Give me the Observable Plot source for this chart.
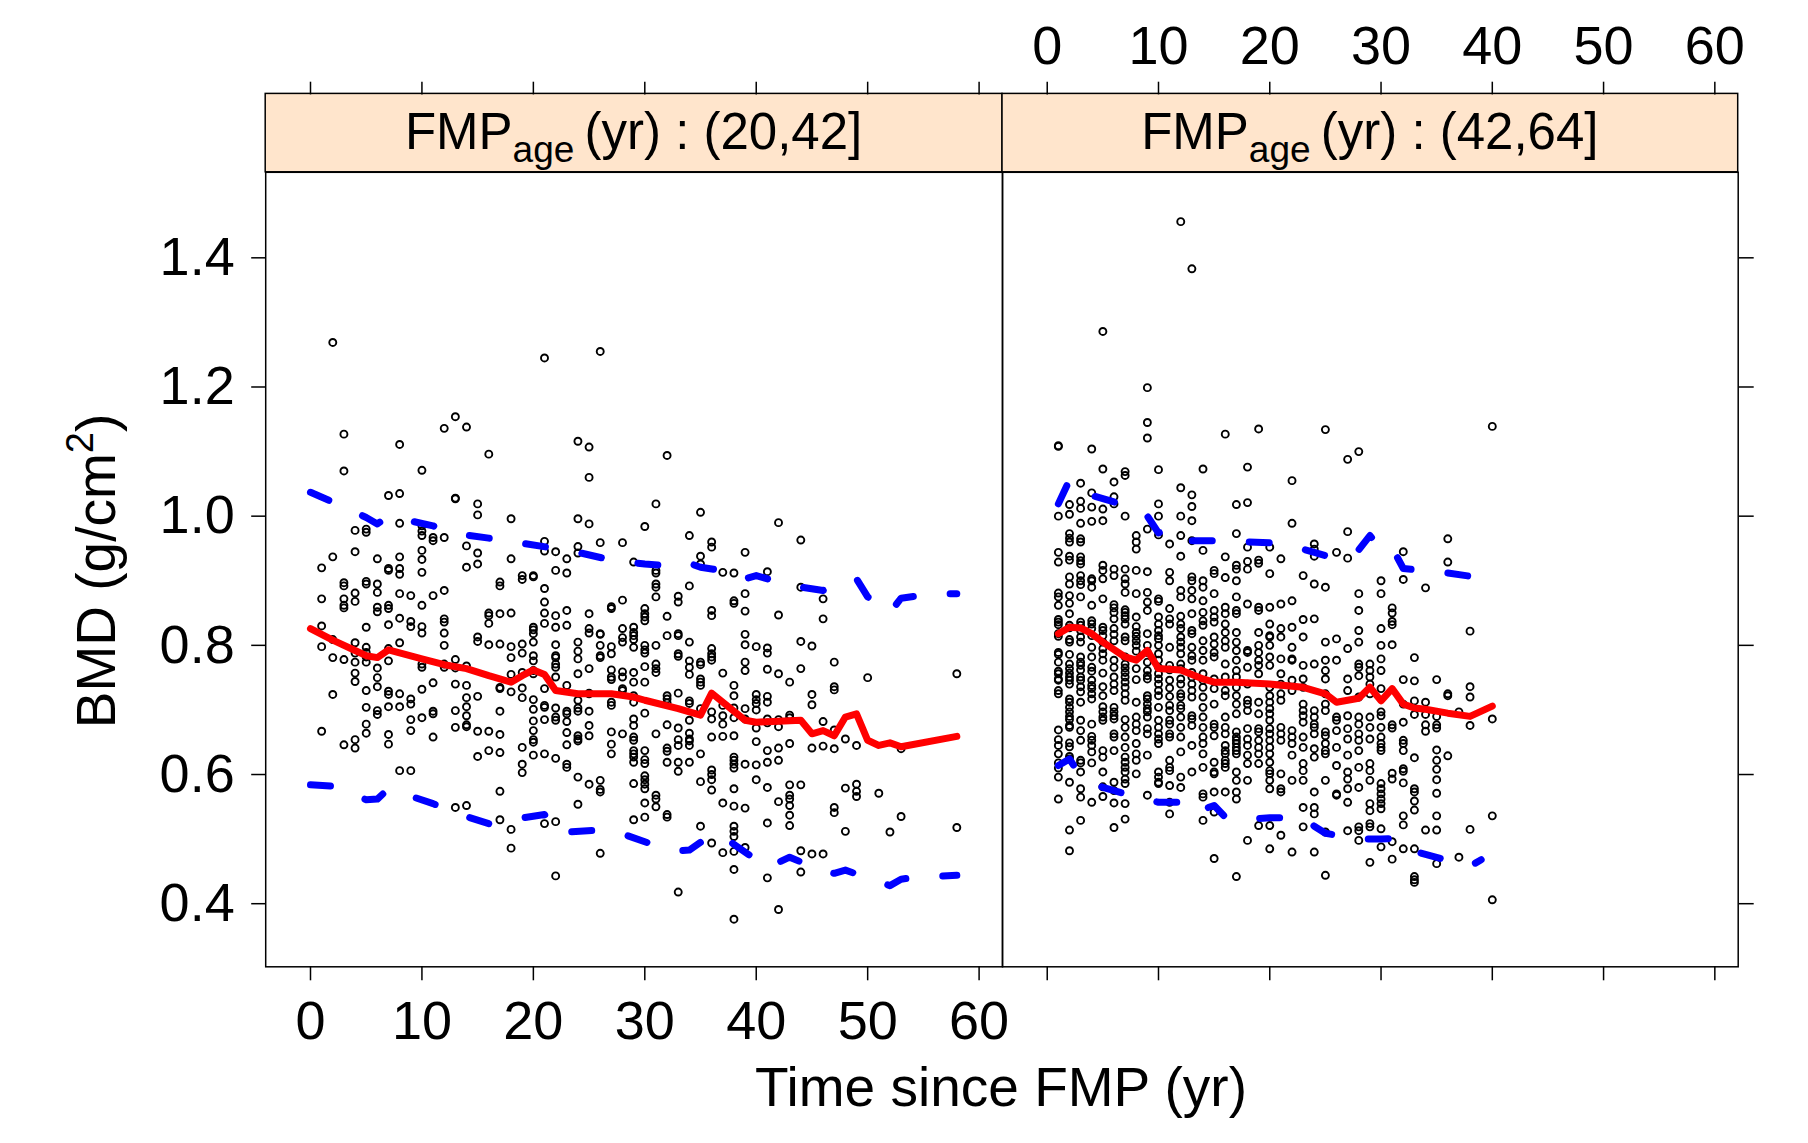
<!DOCTYPE html>
<html><head><meta charset="utf-8">
<script src="https://cdn.jsdelivr.net/npm/d3@7"></script>
<script src="https://cdn.jsdelivr.net/npm/@observablehq/plot@0.6"></script>
<style>
body{margin:0;background:#fff;}
#wrap{position:relative;width:1808px;height:1143px;background:#fff;overflow:hidden;}
#wrap svg{position:absolute;top:0;}
</style></head>
<body><div id="wrap"></div>
<script>
// ---------- axis settings ----------
const xDomain = [-4.02, 62.1];
const yDomain = [0.3023, 1.5324];
const xTicks = [0, 10, 20, 30, 40, 50, 60];
const yTicks = [0.4, 0.6, 0.8, 1.0, 1.2, 1.4];
const stripLevels = ["(20,42]", "(42,64]"];
const xTitle = "Time since FMP (yr)";

// ---------- FMP age (20,42]: [year, BMD values...] ----------
const youngCols = [
 [1, .920,.872,.830,.798,.667],
 [2, 1.269,.937,.809,.781,.724],
 [3, 1.127,1.070,.897,.892,.872,.862,.858,.778,.646],
 [4, .978,.945,.881,.868,.804,.788,.774,.757,.744,.654,.641],
 [5, .980,.975,.899,.895,.828,.797,.789,.782,.774,.730,.704,.678,.664],
 [6, .934,.895,.882,.859,.852,.765,.750,.736,.699,.693],
 [7, 1.032,.919,.916,.862,.857,.832,.795,.776,.729,.724,.705,.662,.647],
 [8, 1.111,1.035,.989,.937,.919,.910,.880,.842,.804,.725,.705,.606],
 [9, .877,.837,.829,.717,.709,.685,.668,.606],
 [10, 1.071,.985,.977,.970,.947,.933,.913,.862,.829,.819,.771,.766,.732,.688],
 [11, .967,.962,.877,.742,.698,.694,.658],
 [12, 1.136,.967,.885,.841,.836,.819,.800,.771,.766],
 [13, 1.154,1.028,1.027,.778,.765,.740,.699,.673,.549],
 [14, 1.138,.954,.921,.768,.738,.719,.705,.691,.677,.674,.552],
 [15, 1.019,1.002,.943,.926,.813,.806,.721,.667,.628],
 [16, 1.096,.850,.846,.834,.801,.667,.637],
 [17, .898,.892,.849,.802,.735,.733,.698,.662,.634,.574,.530],
 [18, .996,.934,.850,.798,.781,.755,.728,.515,.486],
 [19, .908,.902,.802,.788,.758,.734,.719,.642,.616,.603],
 [20, .908,.906,.828,.824,.818,.805,.784,.776,.761,.756,.716,.701,.683,.668,.654,.650,.630],
 [21, 1.245,.961,.946,.888,.867,.850,.834,.733,.707,.704,.685,.632,.524],
 [22, .945,.916,.846,.828,.801,.784,.781,.771,.766,.751,.703,.689,.684,.625,.527,.443],
 [23, .934,.912,.854,.831,.738,.698,.694,.682,.665,.646,.616,.611],
 [24, 1.116,.996,.953,.943,.805,.791,.779,.756,.715,.703,.698,.660,.655,.652,.596,.554],
 [25, 1.107,1.060,.988,.849,.826,.819,.764,.726,.725,.698,.676,.660,.585],
 [26, 1.255,.959,.818,.817,.800,.784,.781,.591,.577,.573,.478],
 [27, .860,.857,.798,.787,.762,.751,.747,.712,.707,.666,.647,.632],
 [28, .959,.870,.826,.812,.805,.759,.751,.733,.730,.663],
 [29, .929,.828,.820,.815,.809,.797,.758,.743,.722,.712,.686,.676,.658,.653,.637,.632,.627,.619,.586,.530],
 [30, .984,.857,.849,.844,.838,.800,.793,.788,.767,.743,.695,.637,.623,.617,.598,.592,.585,.578,.556,.534],
 [31, 1.019,.916,.912,.895,.890,.875,.800,.771,.764,.758,.663,.568,.562,.550],
 [32, 1.094,.845,.815,.722,.717,.711,.677,.641,.636,.619,.538,.534],
 [33, .876,.867,.818,.815,.787,.783,.726,.672,.654,.645,.619,.605,.418],
 [34, .970,.892,.805,.776,.766,.755,.714,.710,.684,.664,.655,.652,.645,.619],
 [35, 1.006,.938,.926,.774,.770,.748,.743,.738,.702,.632,.589,.520],
 [36, .960,.952,.854,.846,.795,.787,.782,.777,.697,.686,.658,.607,.600,.592,.576,.494],
 [37, .913,.757,.707,.691,.678,.659,.556,.479],
 [38, .912,.869,.865,.738,.722,.703,.688,.660,.627,.622,.616,.610,.578,.551,.520,.512,.504,.481,.453,.376],
 [39, .944,.880,.853,.817,.801,.774,.761,.702,.686,.616,.548,.487],
 [40, .798,.724,.716,.710,.700,.672,.651,.615,.592],
 [41, .914,.796,.788,.763,.721,.712,.686,.680,.637,.619,.580,.525,.440],
 [42, .990,.847,.756,.685,.674,.641,.622,.558,.391],
 [43, .743,.692,.688,.648,.584,.568,.562,.552,.537,.521],
 [44, .963,.890,.806,.764,.584,.482,.449],
 [45, .799,.724,.708,.641,.477],
 [46, .872,.841,.682,.644,.477],
 [47, .774,.736,.731,.669,.640,.549,.541],
 [48, .655,.579,.512],
 [49, .645,.585,.574,.566],
 [50, .750],
 [51, .571],
 [52, .511],
 [53, .640,.535],
 [58, .756,.518]
];
const youngMedian = [[0,.826],[2,.808],[4,.792],[5,.784],[6,.781],[7,.793],[10,.779],[12,.770],[14,.764],[16,.753],[18,.743],[19,.753],[20,.762],[21,.755],[22,.730],[24,.725],[27,.725],[29,.720],[30,.715],[33,.702],[35,.692],[36,.726],[38,.698],[39,.684],[40,.681],[44,.684],[45,.663],[46,.668],[47,.660],[48,.689],[49,.694],[50,.653],[51,.645],[52,.649],[53,.643],[58,.659]];
const youngUpper = [[0,1.037],[2,1.022],[5,.998],[6,.988],[7,1.000],[11,.985],[13,.973],[16,.966],[18,.963],[19,.958],[22,.950],[24,.944],[27,.932],[30,.926],[33,.922],[34,.927],[35,.921],[38,.913],[39,.903],[40,.908],[43,.893],[46,.885],[48,.898],[49,.903],[50,.875],[52,.851],[53,.873],[56,.880],[58,.880]];
const youngLower = [[0,.584],[2,.582],[5,.561],[6,.562],[7,.578],[11,.555],[13,.540],[16,.524],[17,.525],[18,.530],[21,.538],[22,.510],[26,.514],[28,.508],[31,.490],[33,.482],[34,.483],[36,.507],[37,.504],[38,.492],[41,.456],[43,.472],[46,.450],[47,.447],[48,.452],[52,.428],[53,.438],[54,.440],[58,.444]];

// ---------- FMP age (42,64]: [year, BMD values...] ----------
const oldCols = [
 [1, 1.109,1.108,1.000,.944,.929,.881,.875,.862,.840,.836,.832,.818,.814,.789,.786,.774,.760,.756,.748,.746,.730,.725,.669,.654,.645,.632,.618,.610,.596,.562],
 [2, 1.018,1.003,.973,.966,.960,.938,.932,.906,.895,.877,.865,.849,.831,.827,.809,.805,.786,.771,.764,.757,.751,.746,.740,.717,.712,.704,.697,.690,.685,.676,.673,.649,.643,.628,.624,.588,.514,.482],
 [3, 1.051,1.023,1.012,.989,.965,.960,.937,.931,.926,.908,.900,.894,.875,.836,.831,.823,.813,.805,.782,.774,.769,.762,.751,.746,.736,.728,.712,.684,.668,.653,.622,.618,.604,.578,.565,.529],
 [4, 1.104,1.036,1.014,.992,.903,.900,.890,.862,.838,.833,.826,.815,.797,.782,.766,.760,.746,.738,.733,.725,.717,.678,.659,.653,.645,.635,.618,.557],
 [5, 1.286,1.073,1.011,.993,.924,.916,.903,.872,.828,.823,.815,.805,.795,.787,.777,.757,.736,.722,.705,.697,.689,.684,.637,.627,.604,.581,.566],
 [6, 1.053,1.030,1.019,.918,.908,.863,.858,.851,.841,.826,.817,.807,.777,.766,.751,.740,.730,.704,.697,.691,.686,.663,.658,.637,.588,.575,.556,.518],
 [7, 1.069,1.063,1.000,.918,.903,.895,.882,.855,.851,.846,.841,.833,.813,.807,.782,.771,.765,.758,.751,.743,.735,.725,.715,.685,.673,.658,.642,.627,.619,.611,.604,.593,.586,.555,.531],
 [8, .970,.960,.949,.916,.880,.844,.829,.820,.814,.807,.800,.791,.764,.747,.712,.689,.678,.668,.648,.632,.622,.601],
 [9, 1.199,1.145,1.121,.980,.914,.882,.867,.854,.818,.800,.789,.774,.761,.753,.748,.722,.717,.709,.702,.697,.689,.671,.663,.630,.568],
 [10, 1.072,1.019,1.000,.971,.872,.868,.844,.833,.823,.815,.810,.800,.787,.777,.766,.756,.748,.740,.730,.722,.704,.684,.673,.663,.655,.648,.604,.596,.588,.586],
 [11, .957,.913,.900,.857,.841,.833,.797,.769,.762,.746,.734,.721,.707,.699,.684,.678,.663,.658,.622,.611,.606,.583,.557,.539],
 [12, 1.456,1.044,1.000,.970,.938,.885,.875,.845,.833,.826,.813,.805,.797,.787,.771,.764,.748,.740,.725,.720,.707,.702,.689,.673,.658,.635,.596,.580],
 [13, 1.383,1.033,1.015,.993,.962,.906,.900,.885,.872,.849,.823,.818,.797,.784,.777,.758,.751,.740,.730,.720,.691,.686,.676,.645,.604],
 [14, 1.073,.947,.900,.890,.869,.851,.838,.831,.807,.792,.777,.756,.746,.735,.720,.704,.689,.673,.658,.648,.632,.611,.570,.565,.529],
 [15, .916,.911,.880,.854,.844,.836,.813,.802,.789,.782,.748,.733,.709,.678,.673,.660,.619,.604,.601,.573,.542,.470],
 [16, 1.127,.937,.905,.859,.849,.833,.820,.807,.797,.771,.751,.730,.722,.689,.673,.663,.645,.637,.632,.622,.617,.611,.573],
 [17, 1.018,.973,.924,.918,.900,.875,.854,.849,.820,.805,.792,.777,.761,.751,.735,.722,.709,.694,.666,.658,.653,.648,.642,.637,.632,.604,.591,.573,.562,.442],
 [18, 1.076,1.021,.952,.930,.918,.864,.792,.789,.766,.740,.715,.709,.699,.671,.655,.645,.630,.617,.591,.498],
 [19, 1.135,.932,.927,.859,.854,.820,.800,.789,.777,.769,.756,.712,.694,.671,.666,.653,.642,.632,.617,.521],
 [20, .952,.911,.859,.833,.815,.813,.800,.782,.769,.735,.722,.712,.702,.694,.684,.671,.663,.653,.642,.632,.619,.606,.601,.591,.578,.521,.485],
 [21, .934,.864,.826,.813,.779,.756,.740,.725,.715,.673,.663,.653,.601,.578,.573,.506],
 [22, 1.055,.989,.869,.828,.797,.779,.777,.746,.730,.668,.658,.648,.630,.591,.480],
 [23, .908,.840,.813,.769,.748,.735,.709,.699,.691,.681,.658,.642,.617,.606,.591,.549,.519],
 [24, .957,.949,.938,.895,.841,.771,.699,.689,.678,.673,.663,.640,.627,.573,.549,.539,.480],
 [25, 1.134,.890,.805,.777,.761,.748,.725,.709,.699,.666,.660,.648,.637,.632,.591,.511,.444],
 [26, .944,.810,.777,.689,.684,.668,.642,.614,.570,.568],
 [27, 1.088,.976,.935,.795,.748,.730,.691,.671,.655,.630,.604,.593,.578,.557,.513],
 [28, 1.100,.880,.854,.823,.805,.771,.766,.753,.720,.689,.678,.663,.653,.637,.611,.580,.519,.513,.498],
 [29, .771,.761,.751,.740,.725,.689,.673,.655,.617,.606,.591,.555,.544,.524,.519,.464],
 [30, .900,.880,.826,.800,.779,.761,.733,.697,.691,.673,.658,.648,.642,.637,.586,.578,.570,.562,.555,.547,.516,.488],
 [31, .858,.850,.837,.832,.801,.677,.672,.602,.593,.496,.469],
 [32, .945,.902,.747,.709,.681,.653,.648,.637,.609,.605,.587,.536,.522,.485],
 [33, .781,.745,.714,.693,.626,.578,.573,.559,.545,.485,.442,.437,.433],
 [34, .889,.712,.693,.677,.667,.514],
 [35, .747,.690,.677,.672,.638,.622,.608,.592,.571,.536,.514,.462],
 [36, .965,.929,.725,.722,.629],
 [37, .697,.472],
 [38, .822,.736,.720,.676,.515],
 [40, 1.139,.686,.536,.406]
];
const oldMedian = [[1,.818],[2,.828],[3,.827],[4,.818],[5,.805],[7,.782],[8,.777],[9,.792],[10,.764],[12,.762],[14,.748],[15,.743],[17,.743],[20,.740],[23,.735],[25,.725],[26,.712],[28,.718],[29,.735],[30,.714],[31,.733],[32,.709],[33,.703],[34,.701],[36,.695],[38,.690],[40,.706]];
const oldUpper = [[1,1.019],[2,1.056],[4,1.032],[6,1.022],[7,1.015],[9,1.000],[10,.974],[11,.980],[12,.966],[13,.962],[15,.962],[18,.960],[21,.958],[24,.944],[26,.934],[28,.948],[29,.970],[30,.950],[31,.951],[32,.919],[36,.912],[38,.907]];
const oldLower = [[1,.614],[2,.624],[3,.598],[5,.580],[8,.565],[10,.557],[12,.557],[13,.540],[15,.552],[16,.534],[17,.530],[20,.533],[23,.533],[24,.520],[25,.509],[28,.500],[30,.500],[31,.501],[32,.486],[33,.481],[36,.467],[38,.458],[39,.468]];

// ---------- helpers ----------
const toPoints = cols => cols.flatMap(([yr, ...v]) => v.map(bmd => ({yr, bmd})));
const toLine = arr => arr.map(([yr, bmd]) => ({yr, bmd}));
const FONT = "'Liberation Sans', Arial, Helvetica, sans-serif";
const wrap = document.getElementById("wrap");

// overlay: strips + titles
const ov = d3.create("svg").attr("width", 1808).attr("height", 1143)
  .style("left", "0px").style("font-family", FONT);
const stripX = [[265.2, 1002], [1002, 1737.7]];
stripLevels.forEach((lev, i) => {
  const [a, b] = stripX[i];
  ov.append("rect").attr("x", a).attr("y", 93.4).attr("width", b - a).attr("height", 78.4)
    .attr("fill", "#ffe5cc").attr("stroke", "black").attr("stroke-width", 1.5);
  const t = ov.append("text").attr("x", (a + b) / 2).attr("y", 149).attr("text-anchor", "middle")
    .attr("font-size", 51);
  t.append("tspan").text("FMP");
  t.append("tspan").attr("font-size", 37).attr("dy", 13).text("age");
  t.append("tspan").attr("dy", -13).text("\u2009(yr) : " + lev);
});
ov.append("text").attr("x", 1001).attr("y", 1106).attr("text-anchor", "middle")
  .attr("font-size", 55).text(xTitle);
const yt = ov.append("text").attr("transform", "translate(115,571) rotate(-90)")
  .attr("text-anchor", "middle").attr("font-size", 55);
yt.append("tspan").text("BMD (g/cm");
yt.append("tspan").attr("font-size", 38).attr("dy", -22).text("2");
yt.append("tspan").attr("dy", 22).text(")");
wrap.appendChild(ov.node());

function panel({cols, median, upper, lower, first, left, width, marginLeft, marginRight}) {
  const marks = [
    Plot.dot(toPoints(cols), {x: "yr", y: "bmd", r: 3.5, stroke: "black", strokeWidth: 1.9, fill: "none"}),
    Plot.line(toLine(median), {x: "yr", y: "bmd", stroke: "#ff0000", strokeWidth: 7,
      strokeLinecap: "round", strokeLinejoin: "round"}),
    Plot.line(toLine(upper), {x: "yr", y: "bmd", stroke: "#0000ff", strokeWidth: 7,
      strokeDasharray: "20,37", strokeLinecap: "round", strokeLinejoin: "round"}),
    Plot.line(toLine(lower), {x: "yr", y: "bmd", stroke: "#0000ff", strokeWidth: 7,
      strokeDasharray: "20,37", strokeLinecap: "round", strokeLinejoin: "round"}),
    Plot.frame({stroke: "black", strokeWidth: 1.5}),
    Plot.axisX({anchor: "bottom", ticks: xTicks, tickSize: 14, tickPadding: 20, fontSize: 54,
      strokeWidth: 1.5, label: null, tickFormat: first ? (d => String(d)) : (() => "")}),
    Plot.axisX({anchor: "top", ticks: xTicks, tickSize: 12.7, dy: -78.4, tickPadding: 17, fontSize: 54,
      strokeWidth: 1.5, label: null, tickFormat: first ? (() => "") : (d => String(d))})
  ];
  if (first) marks.push(Plot.axisY({anchor: "left", ticks: yTicks, tickSize: 14, tickPadding: 17,
    fontSize: 54, strokeWidth: 1.5, label: null, tickFormat: d3.format(".1f")}));
  else marks.push(Plot.axisY({anchor: "right", ticks: yTicks, tickSize: 15, strokeWidth: 1.5,
    label: null, tickFormat: () => ""}));
  const svg = Plot.plot({
    width, height: 1143, marginLeft, marginRight, marginTop: 171.8, marginBottom: 176.7,
    x: {domain: xDomain}, y: {domain: yDomain},
    style: {background: "transparent", fontFamily: FONT, color: "black", overflow: "visible"},
    marks
  });
  svg.style.left = left + "px";
  wrap.appendChild(svg);
}

panel({cols: youngCols, median: youngMedian, upper: youngUpper, lower: youngLower, first: true,
  left: 0, width: 1010, marginLeft: 265.2, marginRight: 8});
panel({cols: oldCols, median: oldMedian, upper: oldUpper, lower: oldLower, first: false,
  left: 994, width: 814, marginLeft: 8, marginRight: 70.3});
</script>
</body></html>
